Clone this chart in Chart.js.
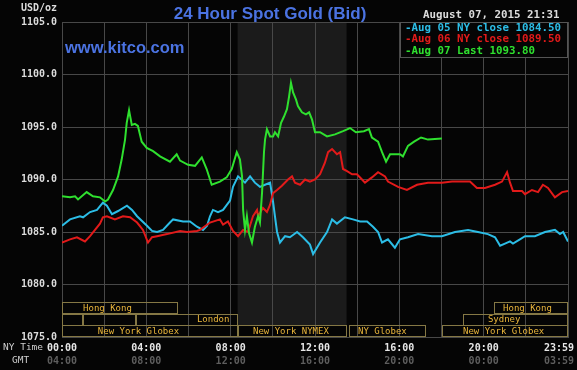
<!DOCTYPE html>
<html>
<head>
<meta charset="utf-8">
<script src="https://cdn.jsdelivr.net/npm/chart.js@4.4.1/dist/chart.umd.min.js"></script>
<style>
  html, body { margin: 0; padding: 0; background: #050505; }
  #wrap { width: 577px; height: 370px; }
</style>
</head>
<body>
<div id="wrap"><canvas id="gold-chart" width="577" height="370"></canvas></div>
<script>
// hours since 00:00 NY time and bid prices
var aug05Hours = [0, 0.38, 0.85, 1.0, 1.33, 1.66, 1.94, 2.13, 2.37, 2.66, 3.08, 3.32, 3.56, 4.03, 4.27, 4.51, 4.79, 5.12, 5.27, 5.74,
    6.07, 6.40, 6.69, 6.88, 7.02, 7.16, 7.40, 7.64, 7.97, 8.11, 8.35, 8.68, 8.92, 9.15, 9.39, 9.63, 9.87, 10.01, 10.10, 10.20,
    10.34, 10.58, 10.81, 11.15, 11.43, 11.76, 11.91, 12.24, 12.57, 12.81, 13.04, 13.42, 13.80, 14.14, 14.47, 14.75, 14.99, 15.18, 15.46, 15.79,
    16.03, 16.41, 16.89, 17.55, 18.02, 18.64, 19.26, 19.73, 20.20, 20.54, 20.78, 21.01, 21.25, 21.39, 21.72, 21.96, 22.43, 22.91, 23.38, 23.62,
    23.77, 24.0];
var aug05Prices = [1085.6, 1086.2, 1086.5, 1086.4, 1086.9, 1087.1, 1087.8, 1087.5, 1086.7, 1087.0, 1087.5, 1087.1, 1086.5, 1085.6, 1085.1, 1085.0, 1085.2, 1085.9, 1086.2, 1086.0,
    1086.0, 1085.5, 1085.2, 1085.6, 1086.5, 1087.1, 1086.9, 1087.1, 1088.0, 1089.3, 1090.3, 1089.7, 1090.3, 1089.7, 1089.3, 1089.5, 1089.7, 1087.9, 1086.5, 1085.0,
    1084.0, 1084.6, 1084.5, 1085.0, 1084.5, 1083.8, 1082.9, 1084.0, 1085.0, 1086.2, 1085.8, 1086.4, 1086.2, 1086.0, 1086.0, 1085.5, 1085.0, 1084.0, 1084.3, 1083.5,
    1084.3, 1084.5, 1084.8, 1084.6, 1084.6, 1085.0, 1085.2, 1085.0, 1084.8, 1084.5, 1083.7, 1083.9, 1084.1, 1083.9, 1084.3, 1084.6, 1084.6, 1085.0, 1085.2, 1084.8,
    1085.0, 1084.1];

var aug06Hours = [0, 0.38, 0.71, 1.09, 1.33, 1.80, 1.94, 2.13, 2.51, 2.89, 3.23, 3.56, 3.84, 4.08, 4.27, 4.51, 4.98, 5.60, 5.93, 6.40,
    6.55, 7.02, 7.49, 7.64, 7.87, 8.11, 8.35, 8.59, 8.82, 9.06, 9.25, 9.30, 9.53, 9.72, 9.87, 10.01, 10.20, 10.43, 10.72, 10.91,
    11.05, 11.29, 11.53, 11.76, 12.00, 12.24, 12.47, 12.62, 12.81, 13.04, 13.19, 13.33, 13.52, 13.76, 13.99, 14.23, 14.37, 14.70, 14.99, 15.32,
    15.46, 15.94, 16.36, 16.84, 17.36, 18.02, 18.50, 19.35, 19.68, 20.06, 20.54, 20.87, 21.11, 21.25, 21.39, 21.82, 21.96, 22.29, 22.58, 22.81,
    23.05, 23.38, 23.72, 24.0];
var aug06Prices = [1084.0, 1084.3, 1084.5, 1084.1, 1084.6, 1085.8, 1086.4, 1086.5, 1086.2, 1086.5, 1086.4, 1085.9, 1085.2, 1084.0, 1084.5, 1084.6, 1084.8, 1085.1, 1085.0, 1085.1,
    1085.2, 1085.9, 1086.2, 1085.7, 1086.0, 1085.1, 1084.6, 1085.2, 1085.0, 1086.5, 1087.1, 1086.5, 1087.3, 1086.9, 1087.6, 1088.7, 1089.0, 1089.4, 1090.0, 1090.3,
    1089.7, 1089.5, 1090.0, 1089.8, 1090.0, 1090.5, 1091.6, 1092.6, 1092.9, 1092.4, 1092.6, 1091.0, 1090.8, 1090.5, 1090.5, 1090.0, 1089.7, 1090.2, 1090.7, 1090.3,
    1089.8, 1089.3, 1089.0, 1089.5, 1089.7, 1089.7, 1089.8, 1089.8, 1089.2, 1089.2, 1089.5, 1089.8, 1090.7, 1089.7, 1088.9, 1088.9, 1088.6, 1089.0, 1088.8, 1089.5,
    1089.2, 1088.3, 1088.8, 1088.9];

var aug07Hours = [0, 0.38, 0.62, 0.76, 1.17, 1.47, 1.80, 2.04, 2.18, 2.42, 2.66, 2.83, 2.99, 3.07, 3.18, 3.31, 3.46, 3.60, 3.78, 4.02,
    4.32, 4.65, 5.12, 5.44, 5.60, 5.98, 6.31, 6.63, 6.86, 7.10, 7.49, 7.81, 8.05, 8.29, 8.44, 8.54, 8.59, 8.68, 8.77, 8.87,
    9.01, 9.15, 9.30, 9.39, 9.49, 9.58, 9.63, 9.72, 9.87, 10.01, 10.10, 10.25, 10.39, 10.53, 10.67, 10.77, 10.86, 10.96, 11.10, 11.19,
    11.38, 11.57, 11.72, 11.86, 12.00, 12.24, 12.57, 12.95, 13.33, 13.66, 13.94, 14.32, 14.56, 14.70, 14.99, 15.18, 15.37, 15.56, 16.03, 16.17,
    16.41, 16.70, 17.03, 17.36, 18.02];
var aug07Prices = [1088.4, 1088.3, 1088.4, 1088.1, 1088.8, 1088.4, 1088.3, 1087.9, 1088.1, 1089.0, 1090.3, 1091.9, 1093.8, 1095.4, 1096.6, 1095.2, 1095.3, 1095.1, 1093.6, 1093.0,
    1092.7, 1092.2, 1091.7, 1092.4, 1091.8, 1091.4, 1091.3, 1092.1, 1091.0, 1089.5, 1089.8, 1090.2, 1091.0, 1092.6, 1091.9, 1090.3, 1087.1, 1085.2, 1086.5, 1084.9,
    1084.0, 1085.5, 1086.5, 1085.9, 1088.8, 1092.6, 1093.8, 1094.8, 1094.1, 1094.1, 1094.5, 1094.1, 1095.4, 1096.0, 1096.7, 1097.9, 1099.2, 1098.3, 1097.6, 1097.0,
    1096.4, 1096.2, 1096.4, 1095.7, 1094.5, 1094.5, 1094.1, 1094.3, 1094.6, 1094.9, 1094.5, 1094.6, 1094.8, 1094.0, 1093.6, 1092.6, 1091.7, 1092.4, 1092.4, 1092.2,
    1093.2, 1093.6, 1094.0, 1093.8, 1093.9];

var legendLabels = ["-Aug 05 NY close 1084.50", "-Aug 06 NY close 1089.50", "-Aug 07 Last 1093.80"];
var seriesColors = ["#2cbde6", "#e21a1a", "#2fe02f"];

// trading sessions (hours NY time), bottom band
var sessionNames = ["Hong Kong", "", "", "London", "New York Globex", "New York NYMEX", "NY Globex", "New York Globex", "Sydney", "Hong Kong"];
var sessionStart = [0, 0, 1, 3.5, 0, 8.33, 13.6, 18, 19, 20.5];
var sessionEnd   = [5.5, 1, 3.5, 8.33, 8.33, 13.5, 17.25, 24, 24, 24];
var sessionRow   = [0, 1, 1, 1, 2, 2, 2, 2, 1, 0];
var sessionLabelAt = [1, 0, 0, 6.4, 1.7, 9.06, 14.04, 19.02, 20.2, 20.92];

var nymexStart = 8.33, nymexEnd = 13.5;

function toPoints(hours, prices) {
    var pts = [];
    for (var i = 0; i < hours.length; i++) pts.push({x: hours[i], y: prices[i]});
    return pts;
}

function hhmm(h) {
    h = ((h % 24) + 24) % 24;
    return (h < 10 ? "0" : "") + h + ":00";
}

var mono = "'DejaVu Sans Mono', monospace";

var overlay = {
    id: 'overlay',
    beforeDraw: function(chart) {
        var c = chart.ctx, a = chart.chartArea, xs = chart.scales.x;
        c.save();
        c.fillStyle = '#050505';
        c.fillRect(0, 0, chart.width, chart.height);
        var x0 = xs.getPixelForValue(nymexStart), x1 = xs.getPixelForValue(nymexEnd);
        c.fillStyle = '#1b1b1b';
        c.fillRect(x0, a.top, x1 - x0, a.bottom - a.top - 12);
        c.restore();
    },
    afterDraw: function(chart) {
        var c = chart.ctx, a = chart.chartArea, xs = chart.scales.x;
        c.save();

        // session boxes
        var rowH = 11.6;
        c.font = "9px " + mono;
        c.textBaseline = 'middle';
        c.textAlign = 'left';
        for (var i = 0; i < sessionNames.length; i++) {
            var top = a.bottom - (3 - sessionRow[i]) * rowH;
            var l = Math.round(xs.getPixelForValue(sessionStart[i])) + 0.5;
            var r = Math.round(xs.getPixelForValue(sessionEnd[i])) - 0.5;
            c.strokeStyle = '#857845';
            c.lineWidth = 1;
            c.strokeRect(l, Math.round(top) + 0.5, r - l, Math.round(rowH) - 1);
            if (sessionNames[i]) {
                c.fillStyle = '#eab63c';
                c.fillText(sessionNames[i], xs.getPixelForValue(sessionLabelAt[i]), top + rowH / 2 + 0.5);
            }
        }

        // legend box
        c.fillStyle = '#050505';
        c.fillRect(400, a.top, 168, 36);
        c.strokeStyle = '#555';
        c.strokeRect(400.5, a.top + 0.5, 167, 35);
        c.font = "bold 10.8px " + mono;
        for (var k = 0; k < legendLabels.length; k++) {
            c.fillStyle = seriesColors[k];
            c.fillText(legendLabels[k], 405, a.top + 6 + k * 11.6);
        }

        // header texts
        c.fillStyle = '#4b73e2';
        c.font = "bold 17px 'Liberation Sans', Arial, sans-serif";
        c.textAlign = 'center';
        c.textBaseline = 'alphabetic';
        c.fillText("24 Hour Spot Gold (Bid)", 270, 18.5);
        c.textAlign = 'left';
        c.font = "bold 16.5px 'Liberation Sans', Arial, sans-serif";
        c.fillText("www.kitco.com", 65, 53);

        c.fillStyle = '#dcdcdc';
        c.font = "bold 10.8px " + mono;
        c.textBaseline = 'middle';
        c.fillText("August 07, 2015 21:31", 423, 15.5);
        c.font = "bold 10px " + mono;
        c.textAlign = 'right';
        c.fillText("USD/oz", 57, 8.5);

        // axis row captions and the 23:59 end labels
        c.font = "9.5px " + mono;
        c.fillStyle = '#cfcfcf';
        c.textAlign = 'left';
        c.fillText("NY Time", 3, 348);
        c.fillText("GMT", 12, 360.5);
        c.textAlign = 'right';
        c.font = "bold 10px " + mono;
        c.fillStyle = '#e6e6e6';
        c.fillText("23:59", 574, 348);
        c.fillStyle = '#5e5e5e';
        c.fillText("03:59", 574, 361);
        c.restore();
    }
};

var gridColor = '#484848';

var config = {
    type: 'line',
    data: {
        datasets: [{
            label: 'Aug 07',
            data: toPoints(aug07Hours, aug07Prices),
            borderColor: seriesColors[2],
            order: 1
        }, {
            label: 'Aug 06',
            data: toPoints(aug06Hours, aug06Prices),
            borderColor: seriesColors[1],
            order: 2
        }, {
            label: 'Aug 05',
            data: toPoints(aug05Hours, aug05Prices),
            borderColor: seriesColors[0],
            order: 3
        }]
    },
    options: {
        responsive: false,
        animation: false,
        events: [],
        layout: { padding: { top: 22, right: 9, left: 0, bottom: 0 } },
        elements: {
            point: { radius: 0 },
            line: { borderWidth: 2, tension: 0 }
        },
        plugins: { legend: { display: false }, title: { display: false }, tooltip: { enabled: false } },
        scales: {
            x: {
                type: 'linear', min: 0, max: 24, position: 'bottom', weight: 0,
                grid: { color: gridColor, drawTicks: false },
                border: { color: gridColor },
                afterFit: function(s) { s.height = 17; },
                ticks: {
                    stepSize: 2, autoSkip: false, maxRotation: 0, padding: 5,
                    color: '#e6e6e6', font: { family: mono, size: 10, weight: 'bold' },
                    callback: function(v) { return (v % 4 === 0 && v < 24) ? hhmm(v) : ''; }
                }
            },
            gmt: {
                type: 'linear', min: 0, max: 24, position: 'bottom', weight: 1,
                grid: { display: false, drawTicks: false },
                border: { display: false },
                afterFit: function(s) { s.height = 16; },
                ticks: {
                    stepSize: 4, autoSkip: false, maxRotation: 0, padding: 1,
                    color: '#5e5e5e', font: { family: mono, size: 10, weight: 'bold' },
                    callback: function(v) { return v < 24 ? hhmm(v + 4) : ''; }
                }
            },
            y: {
                min: 1075, max: 1105,
                grid: { color: gridColor, drawTicks: false },
                border: { color: gridColor },
                afterFit: function(s) { s.width = 62; },
                ticks: {
                    stepSize: 5, padding: 5,
                    color: '#dcdcdc', font: { family: mono, size: 10, weight: 'bold' },
                    callback: function(v) { return v.toFixed(1); }
                }
            }
        }
    },
    plugins: [overlay]
};

var ctx = document.getElementById("gold-chart").getContext("2d");
window.goldChart = new Chart(ctx, config);
</script>
</body>
</html>
